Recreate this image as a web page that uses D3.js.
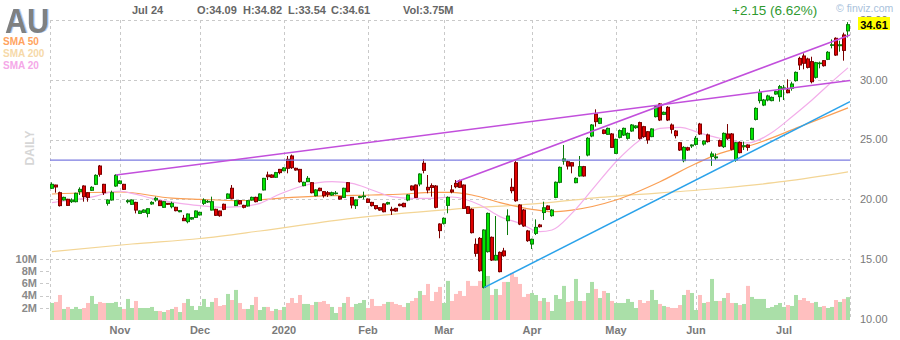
<!DOCTYPE html>
<html><head><meta charset="utf-8">
<script src="https://cdn.jsdelivr.net/npm/d3@7"></script>
<style>body{margin:0;background:#fff;}svg{display:block;font-family:Arial,"Liberation Sans",Helvetica,sans-serif;}</style>
</head><body><svg id="c" width="900" height="340"></svg>
<script>
// ---------- DATA ----------
const ticker = "AU";
const firstDay = "2019-10-09", lastDay = "2020-07-24";
const holidays = ["2019-11-28","2019-12-25","2020-01-01","2020-01-20","2020-02-17","2020-04-10","2020-05-25","2020-07-03"];
const open  = [20.93,21.20,20.56,19.95,20.01,19.81,19.81,20.65,21.12,20.56,20.76,21.26,22.79,21.26,19.67,19.95,21.12,21.34,21.26,19.81,19.59,19.75,18.83,18.92,18.83,19.62,19.95,19.87,19.34,19.67,19.39,19.34,18.97,18.42,18.14,18.36,18.50,18.70,19.67,19.79,19.11,19.17,19.03,19.59,20.09,20.93,19.48,19.89,19.50,19.45,19.95,20.17,19.92,20.79,22.04,22.04,21.85,22.51,22.40,23.35,23.63,22.60,22.51,21.15,21.48,21.40,20.31,20.93,20.65,20.56,20.37,20.49,20.23,20.17,21.40,20.17,19.48,20.17,20.23,20.03,19.75,19.48,19.31,19.62,19.62,19.17,19.25,19.59,19.67,19.95,21.12,21.20,21.29,23.02,21.01,21.15,21.12,17.94,18.00,19.50,20.79,21.34,21.57,21.20,19.39,19.17,16.24,16.74,12.65,15.63,16.83,14.93,15.57,15.69,18.22,21.01,23.07,19.53,19.11,17.36,16.27,17.16,17.86,18.90,19.45,18.64,20.17,21.43,23.21,23.15,23.07,21.40,21.96,22.74,23.71,25.30,27.14,26.36,25.80,25.44,25.47,23.85,25.19,25.38,25.11,25.72,26.00,26.42,26.08,25.66,25.25,26.92,27.98,27.11,27.70,26.22,25.72,24.74,23.24,24.32,24.47,24.60,26.30,24.63,25.39,23.60,23.48,24.91,24.41,25.47,25.47,23.29,24.77,24.43,24.55,25.02,26.69,28.26,27.89,28.31,28.26,28.81,28.59,29.25,29.15,29.29,29.93,31.79,31.99,31.74,31.52,30.21,31.35,31.60,31.71,32.88,33.47,32.85,33.75,34.09];
const high  = [21.43,21.23,20.65,20.23,20.05,20.09,20.56,21.01,21.18,20.60,21.10,22.10,22.88,21.30,20.00,20.73,22.10,21.60,21.30,20.01,20.00,19.80,19.08,19.17,19.25,19.85,20.23,19.92,19.85,19.70,19.81,19.38,19.10,18.70,18.82,18.52,19.08,18.97,20.09,19.95,20.23,19.22,19.06,19.65,20.50,21.20,19.92,19.95,19.55,19.92,20.23,20.23,20.50,21.80,22.32,22.10,22.30,22.55,22.70,23.63,23.75,22.65,22.55,21.48,21.95,21.45,20.85,20.98,20.70,20.70,20.65,20.70,20.28,20.98,21.45,20.20,20.00,20.30,20.65,20.08,19.80,19.52,19.35,19.67,19.80,19.39,19.30,19.65,19.72,20.42,21.17,21.25,22.18,23.35,22.04,21.34,21.20,18.00,18.50,20.25,21.20,21.62,21.65,21.25,19.45,19.25,16.74,16.85,17.50,18.90,16.90,18.61,15.65,15.95,19.17,21.76,23.20,19.60,19.20,17.45,16.72,18.33,17.95,19.81,19.50,19.20,21.50,22.75,24.55,23.25,23.12,21.85,23.63,22.80,25.20,26.30,27.53,26.85,25.85,26.00,25.55,25.08,25.85,26.00,25.60,26.30,26.20,26.50,26.15,25.72,25.95,27.82,28.05,27.35,27.80,26.35,25.80,24.80,24.45,24.40,24.60,25.30,26.40,24.95,25.50,24.00,23.85,25.00,25.60,26.30,25.55,24.80,24.85,24.83,24.60,26.00,27.70,29.20,28.40,28.75,28.60,29.10,29.57,29.57,30.04,29.84,30.70,31.93,32.21,31.85,31.93,31.50,31.52,31.65,32.40,33.38,33.55,33.27,33.94,34.82];
const low   = [20.87,20.56,19.40,19.90,19.48,19.70,19.75,20.37,19.81,19.81,20.70,21.20,21.90,20.37,19.48,19.90,21.05,21.30,20.80,19.67,19.55,18.83,18.80,18.88,18.50,19.55,19.81,19.45,19.30,19.55,19.25,19.00,18.92,18.20,18.00,18.30,18.45,18.65,19.53,19.70,19.08,18.62,18.55,19.10,20.05,20.00,19.45,19.58,19.25,19.40,19.90,19.75,19.88,20.75,21.62,21.80,21.80,22.10,22.35,22.18,22.55,22.40,21.40,21.10,21.45,20.50,20.25,20.68,20.15,20.20,20.30,20.40,19.98,20.12,20.60,19.25,19.20,20.10,20.00,19.70,19.40,19.15,19.05,18.92,19.55,18.70,18.98,19.42,19.35,19.85,20.74,20.12,21.10,22.18,20.51,20.23,19.25,16.75,17.90,18.84,20.51,20.93,20.95,19.20,18.78,17.15,15.21,13.95,12.56,15.55,14.85,14.90,13.90,15.20,17.02,20.51,19.80,17.85,17.70,16.45,15.85,17.02,17.65,18.28,19.10,18.55,20.10,21.35,22.90,22.50,22.18,21.35,21.90,21.90,23.60,25.20,26.08,26.30,25.45,25.40,24.30,23.80,25.10,25.30,25.00,25.65,25.90,25.00,25.15,24.65,25.20,26.85,26.55,27.05,26.55,25.50,25.10,24.05,23.10,24.05,24.30,24.50,25.40,24.50,24.75,22.80,23.29,24.40,24.30,24.97,24.10,23.15,23.85,24.13,24.07,24.95,26.60,28.03,27.80,28.20,28.20,28.75,28.17,28.31,28.87,29.09,29.85,30.82,30.88,30.95,29.70,30.10,30.96,31.10,31.65,32.63,32.00,32.35,31.60,33.54];
const close = [21.26,21.04,19.48,20.17,19.50,19.95,20.51,20.84,20.23,20.17,21.01,22.01,22.10,20.56,19.95,20.56,22.01,21.54,20.84,19.89,19.95,19.11,19.03,19.11,19.22,19.75,20.09,19.48,19.81,19.59,19.67,19.06,19.06,18.22,18.78,18.47,19.03,18.92,19.95,19.83,19.81,18.67,18.64,19.17,20.45,20.09,19.89,19.62,19.34,19.89,20.17,19.81,20.45,21.76,21.90,21.85,22.24,22.24,22.63,22.60,22.65,22.46,21.48,21.43,21.76,20.56,20.79,20.73,20.31,20.42,20.56,20.53,20.03,20.93,20.65,19.53,19.95,20.23,20.28,19.75,19.48,19.23,19.11,18.97,19.73,19.06,19.03,19.48,19.39,20.37,20.79,20.17,22.12,22.43,20.79,21.00,19.34,17.39,18.42,20.17,20.63,21.06,21.01,19.25,18.83,17.22,15.49,14.04,17.44,18.83,14.93,15.32,13.96,15.29,18.61,20.73,19.89,17.94,17.78,16.55,16.66,17.66,17.72,19.30,19.15,19.11,21.43,22.68,23.38,22.79,22.79,21.76,22.74,21.96,25.11,26.22,26.50,26.78,25.52,25.94,24.35,25.02,25.75,25.94,25.52,26.22,26.14,25.11,25.25,24.97,25.89,27.75,26.64,27.28,26.64,25.86,25.33,24.13,24.35,24.13,24.55,25.11,25.47,24.88,24.83,23.80,23.55,24.46,25.52,25.11,24.19,24.74,23.91,24.49,24.35,25.94,27.61,28.92,28.31,28.65,28.53,29.01,29.43,29.32,28.92,29.65,30.62,31.24,31.38,31.04,29.84,31.43,31.40,31.18,32.30,32.93,32.07,32.93,32.46,34.61];
const volume = [2.79,2.96,4.1,1.81,2.14,1.81,2.14,1.81,1.97,2.79,3.94,2.63,2.96,2.79,2.79,2.79,2.96,2.14,1.81,3.45,1.97,3.12,1.97,1.97,1.97,2.14,1.48,1.48,1.31,1.64,1.81,2.14,1.31,2.79,3.45,2.30,1.64,2.30,3.45,2.14,2.96,3.61,2.30,2.46,4.27,3.28,4.93,2.79,1.81,1.81,2.46,3.78,1.64,2.14,2.14,1.48,1.81,1.64,2.14,2.79,3.61,2.79,4.1,2.63,2.63,2.46,2.96,2.96,3.12,2.63,2.14,1.15,2.14,2.79,3.78,2.14,2.63,2.79,3.28,1.97,3.45,2.30,2.30,2.63,2.96,2.96,2.63,2.46,2.14,2.79,3.12,3.61,4.76,4.10,5.91,3.12,4.60,5.42,2.79,6.41,3.12,4.27,4.76,3.94,6.41,5.59,5.59,6.41,6.4,7.22,4.1,5.09,4.1,6.24,6.24,7.72,7.06,5.91,3.78,4.27,4.43,4.1,3.12,3.61,2.96,1.48,4.1,3.45,5.59,2.96,3.12,6.73,3.12,3.12,4.43,6.24,5.09,3.61,4.76,4.43,3.12,2.79,2.79,2.79,3.45,2.96,1.97,3.28,2.79,3.12,4.93,3.28,2.63,2.30,2.14,1.97,1.97,2.46,4.1,4.93,4.43,1.64,4.1,2.79,2.96,6.73,3.12,3.12,3.61,4.43,2.79,2.79,2.46,2.63,5.59,3.78,3.45,3.45,3.45,1.97,2.14,2.46,2.79,2.14,2.46,2.30,4.1,3.28,3.61,3.12,2.79,2.96,2.14,2.30,1.97,2.14,3.28,2.96,3.45,3.75];
// moving averages: [trading-day index, value]
const sma20  = [[0,19.73],[5,19.95],[11,20.28],[14,20.56],[17,20.68],[20,20.51],[25,20.09],[32,19.67],[37,19.48],[42,19.34],[47,19.39],[52,19.67],[57,20.45],[62,21.06],[70,21.48],[75,21.34],[80,20.79],[85,20.23],[90,20.09],[95,20.09],[100,20.2],[107,19.53],[112,18.56],[117,18.0],[122,17.30],[125,17.44],[130,18.85],[135,20.79],[141,23.15],[147,24.97],[152,25.94],[157,26.03],[162,25.55],[167,25.11],[174,24.72],[180,25.6],[185,26.91],[190,28.31],[195,29.84],[199,31.0]];
const sma50  = [[0,20.45],[17,20.62],[30,20.1],[37,20.0],[47,19.9],[60,20.17],[70,20.31],[80,20.37],[88,20.45],[95,20.59],[100,20.58],[105,20.37],[112,19.73],[120,19.17],[125,18.97],[130,19.11],[141,19.95],[152,21.48],[161,23.0],[167,23.85],[175,24.55],[187,26.08],[199,27.65]];
const sma200 = [[0,15.63],[20,16.27],[37,16.73],[52,17.36],[75,18.42],[100,19.17],[122,19.67],[137,20.17],[167,20.93],[183,21.5],[199,22.3]];
// drawn trend lines: [index, price] anchors, extended to the right edge
const trendHigh1 = [[16,22.04],[199,29.92]];
const trendHigh2 = [[101,21.45],[199,33.68]];
const trendLow   = [[108,12.63],[199,28.09]];
const levelLine  = 23.29;
const priceTicks = [35,30,25,20,15,10];
const volTicks = [2,4,6,8,10];
const header = {date:"Jul 24", o:"O:34.09", h:"H:34.82", l:"L:33.54", c:"C:34.61", vol:"Vol:3.75M", change:"+2.15 (6.62%)", last:"34.61"};

// ---------- BUILD DATES ----------
const dates = [];
for (let d = new Date(firstDay+"T12:00:00Z"); d <= new Date(lastDay+"T12:00:00Z"); d.setUTCDate(d.getUTCDate()+1)) {
  const wd = d.getUTCDay(), s = d.toISOString().slice(0,10);
  if (wd===0||wd===6||holidays.includes(s)) continue;
  dates.push(s);
}

// ---------- SCALES ----------
const svg = d3.select("#c");
const defs = svg.append("defs");
const f = defs.append("filter").attr("id","shadow").attr("x","-10%").attr("y","-10%").attr("width","130%").attr("height","130%");
f.append("feDropShadow").attr("dx",1.3).attr("dy",0).attr("stdDeviation",0.3).attr("flood-color","#7fb0ee").attr("flood-opacity",0.9);
const L=50, R=850, T=20;
const x = d3.scaleBand().domain(dates).range([L,R]).paddingInner(0).paddingOuter(0);
const cx = i => x(dates[i]) + x.bandwidth()/2;
const y = d3.scaleLinear().domain([10,35]).range([319,20]);
const yv = d3.scaleLinear().domain([0,10]).range([320,259]);
const grid = "#c9c9c9";

// ---------- GRID ----------
const g = svg.append("g");
priceTicks.filter(t=>t>10).forEach(t=>{
  g.append("line").attr("x1",L).attr("x2",R).attr("y1",Math.round(y(t))+0.5).attr("y2",Math.round(y(t))+0.5)
   .attr("stroke",grid).attr("stroke-dasharray","3,3");
});
const monthIdx = [];
dates.forEach((d,i)=>{ if(i>0 && d.slice(5,7)!==dates[i-1].slice(5,7)) monthIdx.push(i); });
const monthFmt = d => d.slice(5,7)==="01" ? d.slice(0,4) : d3.timeFormat("%b")(new Date(d+"T12:00:00"));
[L, ...monthIdx.map(i=>cx(i)), R].forEach(xx=>{
  g.append("line").attr("x1",Math.round(xx)+0.5).attr("x2",Math.round(xx)+0.5).attr("y1",T).attr("y2",320)
   .attr("stroke",grid).attr("stroke-dasharray","3,3");
});
// volume ticks on the left
volTicks.forEach(t=>{
  g.append("line").attr("x1",40).attr("x2",L).attr("y1",Math.round(yv(t))+0.5).attr("y2",Math.round(yv(t))+0.5)
   .attr("stroke",grid).attr("stroke-dasharray","3,3");
  svg.append("text").attr("x",37).attr("y",yv(t)).attr("dy","0.35em").attr("text-anchor","end")
   .attr("font-size",11).attr("font-weight","bold").attr("fill","#8a8a8a").text(t+"M");
});

// ---------- VOLUME ----------
svg.append("g").selectAll("rect").data(volume).join("rect")
  .attr("x",(v,i)=>x(dates[i])).attr("width",x.bandwidth())
  .attr("y",v=>yv(v)).attr("height",v=>yv(0)-yv(v))
  .attr("fill",(v,i)=>close[i]>=open[i]?"#aadfa8":"#ffbfbf");

// ---------- MOVING AVERAGES ----------
const maLine = d3.line().x(p=>cx(p[0])).y(p=>y(p[1])).curve(d3.curveMonotoneX);
[[sma200,"#f3d595"],[sma50,"#fa9f55"],[sma20,"#f3aeea"]].forEach(([s,c])=>{
  svg.append("path").attr("d",maLine(s)).attr("fill","none").attr("stroke",c).attr("stroke-width",1.2);
});

// ---------- CANDLES ----------
const cg = svg.append("g");
dates.forEach((d,i)=>{
  const up = close[i]>=open[i];
  const X = cx(i);
  const dark = up ? "#0a7a0a" : "#7a0000";
  cg.append("line").attr("x1",X-0.5).attr("x2",X-0.5).attr("y1",y(high[i])).attr("y2",y(low[i]))
    .attr("stroke",dark).attr("stroke-width",1);
  const top = y(Math.max(open[i],close[i])), bot = y(Math.min(open[i],close[i]));
  cg.append("rect").attr("x",X-1.5).attr("width",3).attr("y",top).attr("height",Math.max(bot-top,0.6))
    .attr("fill",up?"#00e600":"#e00000").attr("stroke",dark).attr("stroke-width",1);
});

// ---------- TREND LINES ----------
function extLine(a, color, w){
  const x1=cx(a[0][0]), y1=y(a[0][1]), x2=cx(a[1][0]), y2=y(a[1][1]);
  const k=(y2-y1)/(x2-x1);
  svg.append("line").attr("x1",x1).attr("y1",y1).attr("x2",R).attr("y2",y1+k*(R-x1))
    .attr("stroke",color).attr("stroke-width",w);
}
svg.append("line").attr("x1",L).attr("x2",R).attr("y1",y(levelLine)).attr("y2",y(levelLine))
  .attr("stroke","#7b7be0").attr("stroke-width",1.2);
extLine(trendHigh1,"#c24fdc",1.5);
extLine(trendHigh2,"#c24fdc",1.5);
extLine(trendLow,"#2aa2ea",1.5);

// ---------- AXIS LABELS ----------
priceTicks.forEach(t=>{
  svg.append("text").attr("x",860).attr("y",y(t)).attr("dy","0.35em")
    .attr("font-size",11).attr("fill","#7a7a7a").text(t.toFixed(2));
});
monthIdx.forEach(i=>{
  svg.append("text").attr("x",cx(i)).attr("y",334).attr("text-anchor","middle")
    .attr("font-size",11).attr("font-weight","bold").attr("fill","#7a7a7a").text(monthFmt(dates[i]));
});

// last price box
svg.append("rect").attr("x",858).attr("y",17).attr("width",32).attr("height",13).attr("fill","#ffff00");
svg.append("text").attr("x",874).attr("y",y(+header.last)).attr("dy","0.35em").attr("text-anchor","middle")
  .attr("font-size",11).attr("font-weight","bold").attr("fill","#000").text(header.last);

// ---------- HEADER ----------
svg.append("text").attr("x",5).attr("y",33).attr("font-size",35).attr("font-weight","bold")
  .attr("fill","#808080").attr("filter","url(#shadow)")
  .attr("textLength",44).attr("lengthAdjust","spacingAndGlyphs").text(ticker);
[["SMA 50","#ffa35e",45],["SMA 200","#f6d9a8",57],["SMA 20","#f5a8e8",69]].forEach(([t,c,yy])=>{
  svg.append("text").attr("x",3).attr("y",yy).attr("font-size",10).attr("font-weight","bold").attr("fill",c).text(t);
});
const hdr = [[132,header.date],[197,header.o],[243,header.h],[288,header.l],[331,header.c],[403,header.vol]];
hdr.forEach(([xx,t])=>{
  svg.append("text").attr("x",xx).attr("y",14).attr("font-size",11).attr("font-weight","bold").attr("fill","#666").text(t);
});
svg.append("text").attr("x",732).attr("y",15).attr("font-size",13.5).attr("fill","#2f9a2f").text(header.change);
svg.append("text").attr("x",836).attr("y",12).attr("font-size",10.5).attr("fill","#a9c2dc").text("© finviz.com");
svg.append("text").attr("transform","translate(34,148) rotate(-90)").attr("text-anchor","middle")
  .attr("font-size",12).attr("font-weight","bold").attr("fill","#d6d6d6").text("DAILY");
</script></body></html>
